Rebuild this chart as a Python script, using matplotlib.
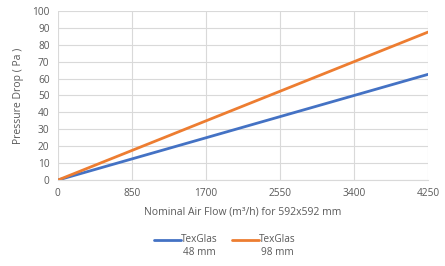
import matplotlib
matplotlib.use("Agg")
import matplotlib.pyplot as plt

flow = [0, 850, 1700, 2550, 3400, 4250]
texglas_48 = [0, 12.5, 25, 37.5, 50, 62.5]
texglas_98 = [0, 17.5, 35, 52.5, 70, 87.5]
y_ticks = list(range(0, 101, 10))
series_labels = ["TexGlas\n48 mm", "TexGlas\n98 mm"]

plt.rcParams['font.family'] = ['Open Sans', 'DejaVu Sans']
txt = '#595959'
fig = plt.figure(figsize=(4.45, 2.66), dpi=100)
ax = fig.add_axes([0.130, 0.323, 0.832, 0.636])
ax.plot(flow, texglas_48, color='#4472C4', lw=2.0, label=series_labels[0], solid_capstyle='round')
ax.plot(flow, texglas_98, color='#ED7D31', lw=2.0, label=series_labels[1], solid_capstyle='round')
ax.set_xlim(0, 4250)
ax.set_ylim(0, 100)
ax.set_xticks(flow)
ax.set_yticks(y_ticks)
ax.grid(True, color='#D9D9D9', lw=0.8)
ax.set_axisbelow(True)
for s in ['top', 'right', 'left']:
    ax.spines[s].set_visible(False)
ax.spines['bottom'].set_color('#D9D9D9')
ax.tick_params(length=0, labelsize=7.3, colors=txt, pad=6)
ax.set_xlabel("Nominal Air Flow (m³/h) for 592x592 mm", fontsize=7.5, color=txt, labelpad=5)
ax.set_ylabel("Pressure Drop ( Pa )", fontsize=7.5, color=txt, labelpad=6)
leg = fig.legend(loc='center', bbox_to_anchor=(0.505, 0.075), ncol=2, frameon=False,
                 fontsize=7.2, handlelength=2.7, handletextpad=0.0, columnspacing=1.4)
for t in leg.get_texts():
    t.set_color(txt)
    t.set_multialignment('center')
for ln in leg.get_lines():
    yd = ln.get_ydata()
    ln.set_ydata([v + 4.5 for v in yd])
fig.savefig("out.png", dpi=100)
